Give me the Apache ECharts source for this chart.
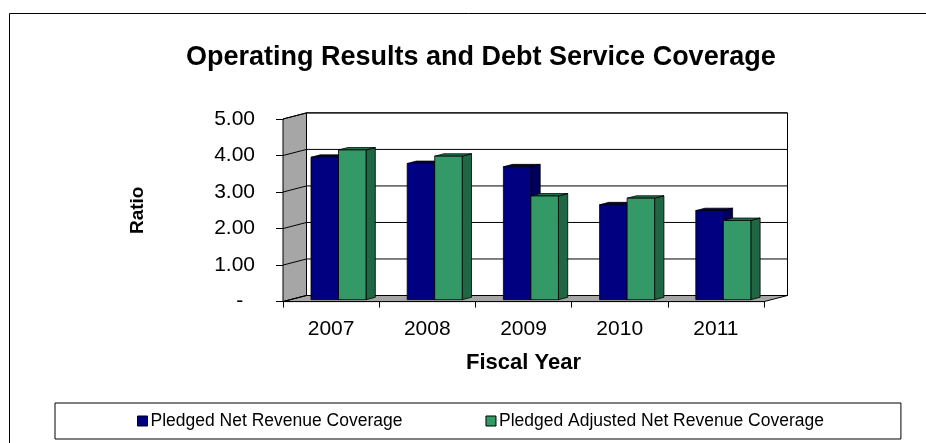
<!DOCTYPE html>
<html><head><meta charset="utf-8">
<script src="https://cdn.jsdelivr.net/npm/echarts@6/dist/echarts.min.js"></script>
<style>html,body{margin:0;padding:0;background:#fff}#c{width:926px;height:443px}</style>
</head><body><div id="c"></div>
<script>
// ---- data ----
const categories = ['2007', '2008', '2009', '2010', '2011'];
const pledgedNet = [3.90, 3.73, 3.64, 2.60, 2.44];
const pledgedAdjusted = [4.10, 3.93, 2.84, 2.78, 2.17];
const yTicks = [0, 1, 2, 3, 4, 5];
const seriesNames = ['Pledged Net Revenue Coverage', 'Pledged Adjusted Net Revenue Coverage'];
const chartTitle = 'Operating Results and Debt Service Coverage';

// ---- style ----
const FONT = '"Liberation Sans", Arial, sans-serif';
const DX = 23.5, DY = -6.1;     // wall depth
const FDX = 7.4, FDY = -1.9;    // bar front-face depth offset
const BDX = 9.3, BDY = -2.4;    // bar depth
const BAR_FRAC = 0.286;
const WALL = '#A6A6A6';
const BLUE = {front: '#000080', top: '#00004A', side: '#00005A'};
const GREEN = {front: '#339966', top: '#237550', side: '#1F6642'};

function barRenderer(side, colors) {
  return function (params, api) {
    const i = api.value(0), v = api.value(1);
    const top = api.coord([i, v]);
    const base = api.coord([i, 0]);
    const band = api.size([1, 0])[0];
    const w = band * BAR_FRAC;
    const cx = top[0] + FDX;
    const xl = side === 0 ? cx - w : cx;
    const xr = xl + w;
    const yt = top[1] + FDY, yb = base[1] + FDY;
    const ls = {stroke: '#000', lineWidth: 0.8};
    return {type: 'group', children: [
      {type: 'polygon', shape: {points: [[xr, yt], [xr + BDX, yt + BDY], [xr + BDX, yb + BDY], [xr, yb]]}, style: Object.assign({fill: colors.side}, ls)},
      {type: 'polygon', shape: {points: [[xl, yt], [xr, yt], [xr + BDX, yt + BDY], [xl + BDX, yt + BDY]]}, style: Object.assign({fill: colors.top}, ls)},
      {type: 'rect', shape: {x: xl, y: yt, width: w, height: yb - yt}, style: Object.assign({fill: colors.front}, ls)}
    ]};
  };
}

function wallRenderer(params, api) {
  const cs = params.coordSys;
  const x0 = cs.x, x1 = cs.x + cs.width, y0 = cs.y, y1 = cs.y + cs.height;
  const ch = [];
  ch.push({type: 'rect', shape: {x: x0 + DX, y: y0 + DY, width: cs.width, height: cs.height}, style: {fill: '#fff', stroke: '#000', lineWidth: 1}});
  ch.push({type: 'polygon', shape: {points: [[x0, y0], [x0 + DX, y0 + DY], [x0 + DX, y1 + DY], [x0, y1]]}, style: {fill: WALL, stroke: '#000', lineWidth: 1}});
  ch.push({type: 'polygon', shape: {points: [[x0, y1], [x0 + DX, y1 + DY], [x1 + DX, y1 + DY], [x1, y1]]}, style: {fill: WALL, stroke: '#000', lineWidth: 1}});
  yTicks.forEach(function (t) {
    const y = api.coord([0, t])[1];
    ch.push({type: 'line', shape: {x1: x0, y1: y, x2: x0 + DX, y2: y + DY}, style: {stroke: '#000', lineWidth: 1}});
    ch.push({type: 'line', shape: {x1: x0 + DX, y1: y + DY, x2: x1 + DX, y2: y + DY}, style: {stroke: '#000', lineWidth: 1}});
  });
  return {type: 'group', children: ch};
}

const chart = echarts.init(document.getElementById('c'), null, {renderer: 'canvas'});
chart.setOption({
  animation: false,
  backgroundColor: '#fff',
  title: {
    text: chartTitle, left: 186, top: 44, padding: 0,
    textStyle: {fontFamily: FONT, fontSize: 27, fontWeight: 'bold', color: '#000'}
  },
  graphic: [{
    type: 'rect', silent: true, z: -10,
    shape: {x: 9.5, y: 13.5, width: 1000, height: 1000},
    style: {fill: 'none', stroke: '#000', lineWidth: 1}
  }],
  legend: {
    data: seriesNames, left: 55, top: 403,
    padding: [9, 77, 9, 82], borderColor: '#000', borderWidth: 1,
    itemWidth: 10, itemHeight: 10, itemGap: 83, icon: 'rect',
    itemStyle: {borderColor: '#000', borderWidth: 1},
    textStyle: {fontFamily: FONT, fontSize: 17.5, color: '#000', padding: [0, 0, 0, -2]}
  },
  grid: {left: 283, top: 119, width: 481, height: 182.6, containLabel: false},
  xAxis: {
    type: 'category', data: categories, boundaryGap: true,
    axisLine: {show: true, lineStyle: {color: '#000', width: 1}},
    axisTick: {show: true, length: 6, alignWithLabel: false, lineStyle: {color: '#000'}},
    axisLabel: {fontFamily: FONT, fontSize: 21, color: '#000', margin: 17},
    splitLine: {show: false},
    name: 'Fiscal Year', nameLocation: 'middle', nameGap: 50,
    nameTextStyle: {fontFamily: FONT, fontSize: 22, fontWeight: 'bold', color: '#000'}
  },
  yAxis: {
    type: 'value', min: 0, max: 5, interval: 1,
    axisLine: {show: true, lineStyle: {color: '#000', width: 1}},
    axisTick: {show: true, length: 7, lineStyle: {color: '#000'}},
    axisLabel: {
      fontFamily: FONT, fontSize: 21, color: '#000', margin: 28,
      formatter: function (v) { return v === 0 ? '-  ' : v.toFixed(2); }
    },
    splitLine: {show: false},
    name: 'Ratio', nameLocation: 'middle', nameRotate: 90, nameGap: 136,
    nameTextStyle: {fontFamily: FONT, fontSize: 19, fontWeight: 'bold', color: '#000'}
  },
  series: [
    {type: 'custom', name: '_walls', silent: true, z: 1, clip: false,
     data: [[0, 0]], encode: {x: 0, y: 1}, renderItem: wallRenderer},
    {type: 'custom', name: seriesNames[0], z: 2, clip: false,
     itemStyle: {color: BLUE.front},
     data: pledgedNet.map(function (v, i) { return [i, v]; }), encode: {x: 0, y: 1},
     renderItem: barRenderer(0, BLUE)},
    {type: 'custom', name: seriesNames[1], z: 3, clip: false,
     itemStyle: {color: GREEN.front},
     data: pledgedAdjusted.map(function (v, i) { return [i, v]; }), encode: {x: 0, y: 1},
     renderItem: barRenderer(1, GREEN)}
  ]
});
</script></body></html>
